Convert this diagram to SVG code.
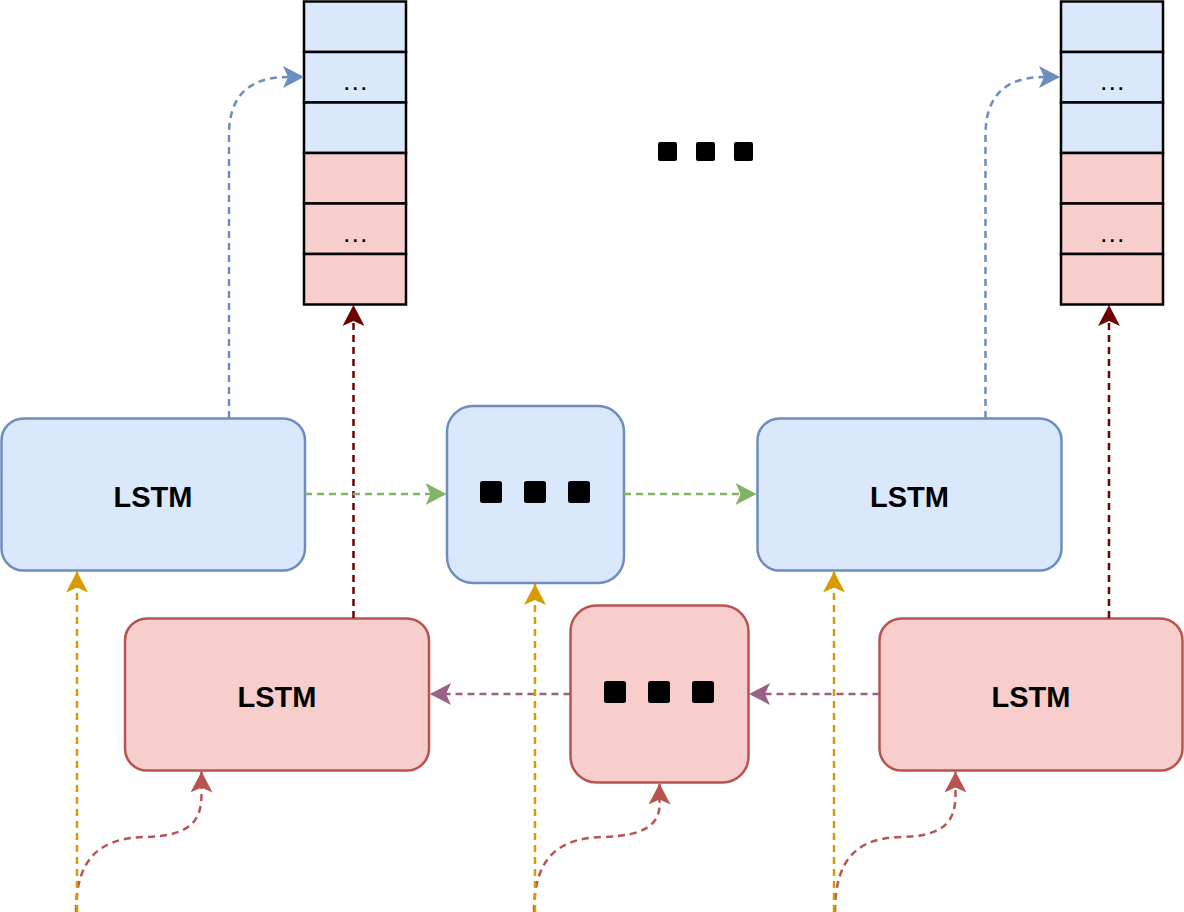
<svg xmlns="http://www.w3.org/2000/svg" width="1184" height="912" viewBox="0 0 1184 912">
<style>
.bn{fill:#dae8fc;stroke:#6c8ebf;stroke-width:2.5}
.rn{fill:#f8cecc;stroke:#b85450;stroke-width:2.5}
.bc{fill:#dae8fc;stroke:#000;stroke-width:2.5}
.rc{fill:#f8cecc;stroke:#000;stroke-width:2.5}
.lbl{font-family:"Liberation Sans",Arial,sans-serif;font-weight:bold;font-size:29px;fill:#000;text-anchor:middle}
.dots{font-family:"Liberation Sans",Arial,sans-serif;font-weight:bold;font-size:18px;letter-spacing:3.5px;fill:#000;text-anchor:middle}
.sq{fill:#000}
.c{fill:none;stroke-width:2.5;stroke-dasharray:7 5}
</style>
<defs>
<marker id="mBlue" viewBox="0 0 21 22" refX="21" refY="11" markerWidth="21" markerHeight="22" markerUnits="userSpaceOnUse" orient="auto"><path d="M21,11 L0,0 L5,11 L0,22 Z" fill="#6c8ebf"/></marker>
<marker id="mGreen" viewBox="0 0 21 22" refX="21" refY="11" markerWidth="21" markerHeight="22" markerUnits="userSpaceOnUse" orient="auto"><path d="M21,11 L0,0 L5,11 L0,22 Z" fill="#82b366"/></marker>
<marker id="mYellow" viewBox="0 0 21 22" refX="21" refY="11" markerWidth="21" markerHeight="22" markerUnits="userSpaceOnUse" orient="auto"><path d="M21,11 L0,0 L5,11 L0,22 Z" fill="#d79b00"/></marker>
<marker id="mRed" viewBox="0 0 21 22" refX="21" refY="11" markerWidth="21" markerHeight="22" markerUnits="userSpaceOnUse" orient="auto"><path d="M21,11 L0,0 L5,11 L0,22 Z" fill="#b85450"/></marker>
<marker id="mPurple" viewBox="0 0 21 22" refX="21" refY="11" markerWidth="21" markerHeight="22" markerUnits="userSpaceOnUse" orient="auto"><path d="M21,11 L0,0 L5,11 L0,22 Z" fill="#996185"/></marker>
<marker id="mDark" viewBox="0 0 21 22" refX="21" refY="11" markerWidth="21" markerHeight="22" markerUnits="userSpaceOnUse" orient="auto"><path d="M21,11 L0,0 L5,11 L0,22 Z" fill="#6f0000"/></marker>
</defs>

<g id="stack-left">
<rect class="bc" x="304" y="1.5" width="102" height="50.5"/>
<rect class="bc" x="304" y="52" width="102" height="50.5"/>
<rect class="bc" x="304" y="102.5" width="102" height="50.5"/>
<rect class="rc" x="304" y="153" width="102" height="50.5"/>
<rect class="rc" x="304" y="203.5" width="102" height="50.5"/>
<rect class="rc" x="304" y="254" width="102" height="50.5"/>
<text class="dots" x="357" y="89.5">...</text>
<text class="dots" x="357" y="241.5">...</text>
</g>

<g id="stack-right">
<rect class="bc" x="1061" y="1.5" width="102" height="50.5"/>
<rect class="bc" x="1061" y="52" width="102" height="50.5"/>
<rect class="bc" x="1061" y="102.5" width="102" height="50.5"/>
<rect class="rc" x="1061" y="153" width="102" height="50.5"/>
<rect class="rc" x="1061" y="203.5" width="102" height="50.5"/>
<rect class="rc" x="1061" y="254" width="102" height="50.5"/>
<text class="dots" x="1114" y="89.5">...</text>
<text class="dots" x="1114" y="241.5">...</text>
</g>

<g id="top-ellipsis">
<rect class="sq" x="658" y="142" width="19" height="19" rx="2"/>
<rect class="sq" x="696" y="142" width="19" height="19" rx="2"/>
<rect class="sq" x="734" y="142" width="19" height="19" rx="2"/>
</g>

<g id="lstm-fwd-1">
<rect class="bn" x="1.5" y="418.5" width="303.5" height="152" rx="22"/>
<text class="lbl" x="153" y="507">LSTM</text>
</g>

<g id="fwd-mid">
<rect class="bn" x="447" y="406" width="177" height="177" rx="26"/>
<rect class="sq" x="480" y="481" width="22" height="22" rx="2.5"/>
<rect class="sq" x="524" y="481" width="22" height="22" rx="2.5"/>
<rect class="sq" x="568" y="481" width="22" height="22" rx="2.5"/>
</g>

<g id="lstm-fwd-2">
<rect class="bn" x="757.5" y="418.5" width="304" height="152" rx="22"/>
<text class="lbl" x="909.5" y="507">LSTM</text>
</g>

<g id="lstm-bwd-1">
<rect class="rn" x="125" y="618.5" width="304" height="152" rx="22"/>
<text class="lbl" x="277" y="707">LSTM</text>
</g>

<g id="bwd-mid">
<rect class="rn" x="570.5" y="605.5" width="178" height="177" rx="26"/>
<rect class="sq" x="604" y="681" width="22" height="22" rx="2.5"/>
<rect class="sq" x="648" y="681" width="22" height="22" rx="2.5"/>
<rect class="sq" x="692" y="681" width="22" height="22" rx="2.5"/>
</g>

<g id="lstm-bwd-2">
<rect class="rn" x="879.5" y="618.5" width="303" height="152" rx="22"/>
<text class="lbl" x="1031" y="707">LSTM</text>
</g>

<g id="connectors">
<path class="c" stroke="#6c8ebf" marker-end="url(#mBlue)" d="M229,418 V135 C229,100 245,77 288,77 L304,77"/>
<path class="c" stroke="#6c8ebf" marker-end="url(#mBlue)" d="M985.5,418 V135 C985.5,100 1001.5,77 1044,77 L1060,77"/>
<path class="c" stroke="#6f0000" marker-end="url(#mDark)" d="M353.5,618 V305"/>
<path class="c" stroke="#6f0000" marker-end="url(#mDark)" d="M1109,618 V305"/>
<path class="c" stroke="#82b366" marker-end="url(#mGreen)" d="M305,494 H446.5"/>
<path class="c" stroke="#82b366" marker-end="url(#mGreen)" d="M624,494 H756.5"/>
<path class="c" stroke="#996185" marker-end="url(#mPurple)" d="M570.5,694 H430"/>
<path class="c" stroke="#996185" marker-end="url(#mPurple)" d="M879.5,694 H749"/>
<path class="c" stroke="#b85450" marker-end="url(#mRed)" d="M76,912 C76,858 100,838 145,837 C185,836 201.5,825 201.5,795 L201.5,771.5"/>
<path class="c" stroke="#b85450" marker-end="url(#mRed)" d="M534,912 C534,858 558,838 603,837 C643,836 659.5,825 659.5,805 L659.5,783.5"/>
<path class="c" stroke="#b85450" marker-end="url(#mRed)" d="M835,912 C835,858 858,838 901,837 C940,836 955.5,825 955.5,795 L955.5,771.5"/>
<path class="c" stroke="#d79b00" marker-end="url(#mYellow)" d="M77,912 V571.5"/>
<path class="c" stroke="#d79b00" marker-end="url(#mYellow)" d="M535,912 V584"/>
<path class="c" stroke="#d79b00" marker-end="url(#mYellow)" d="M834,912 V571.5"/>
</g>
</svg>
